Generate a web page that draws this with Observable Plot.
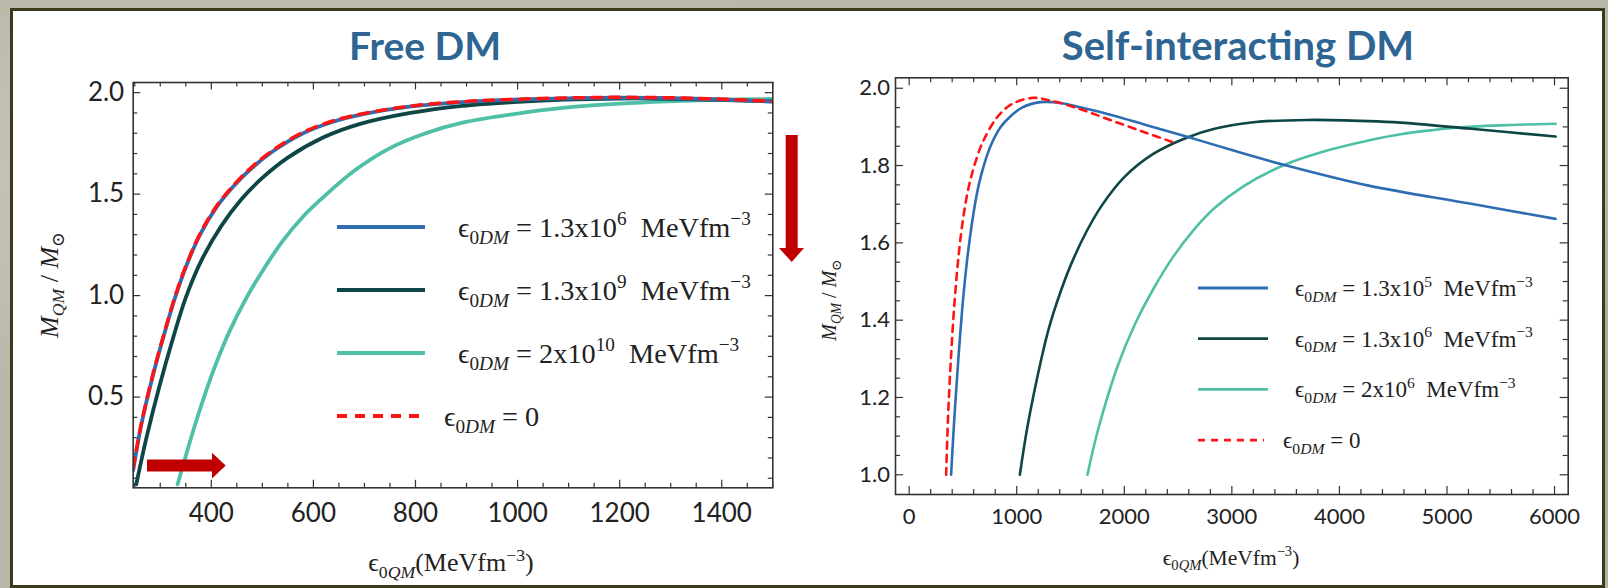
<!DOCTYPE html>
<html><head><meta charset="utf-8">
<script src="https://cdn.jsdelivr.net/npm/d3@7"></script>
<script src="https://cdn.jsdelivr.net/npm/@observablehq/plot@0.6"></script>
<style>
html,body{margin:0;padding:0;width:1608px;height:588px;overflow:hidden;
  background:#b9b7a8;
  background-image:radial-gradient(ellipse at 20% 30%, rgba(255,255,255,0.25), transparent 40%),
    radial-gradient(ellipse at 80% 70%, rgba(90,90,70,0.22), transparent 45%);}
#panel{position:absolute;left:10px;top:8px;width:1595px;height:580px;box-sizing:border-box;border:3px solid #3b3a1d;background:#fff;}
.chart{position:absolute;top:0;width:804px;height:588px;}
#deco{position:absolute;left:0;top:0;}
</style></head><body>
<div id="panel"></div>
<div id="left" class="chart" style="left:0px"></div>
<div id="right" class="chart" style="left:804px"></div>
<svg id="deco" width="1608" height="588"></svg>
<script>
// ---------------- DATA ----------------
// Free DM panel (x: eps0QM in MeV fm^-3, y: M/Msun)
const freeZeroX = [247, 263, 288, 310, 329, 350, 379, 410, 444, 480, 520, 580, 640, 700, 791, 900, 992, 1100, 1193, 1350, 1500];
const freeZeroY = [0.15, 0.37, 0.635, 0.835, 0.995, 1.145, 1.31, 1.44, 1.545, 1.635, 1.715, 1.805, 1.862, 1.898, 1.934, 1.957, 1.967, 1.974, 1.977, 1.972, 1.958];
const freeAX = [247, 263, 288, 310, 329, 350, 379, 410, 444, 480, 520, 580, 640, 700, 791, 900, 992, 1100, 1193, 1350, 1500];
const freeAY = [0.14, 0.365, 0.63, 0.83, 0.99, 1.14, 1.305, 1.435, 1.54, 1.63, 1.71, 1.80, 1.858, 1.895, 1.932, 1.955, 1.965, 1.972, 1.975, 1.970, 1.956];
const freeBX = [253, 273, 298, 325, 350, 380, 420, 459, 500, 550, 620, 690, 790, 892, 1000, 1093, 1200, 1300, 1500];
const freeBY = [0.07, 0.30, 0.55, 0.79, 0.99, 1.17, 1.345, 1.475, 1.58, 1.68, 1.78, 1.845, 1.90, 1.935, 1.955, 1.966, 1.971, 1.970, 1.957];
const freeCX = [334, 350, 369, 404, 435, 469, 500, 540, 580, 615, 680, 751, 820, 892, 1000, 1093, 1200, 1294, 1400, 1500];
const freeCY = [0.07, 0.21, 0.37, 0.63, 0.82, 0.99, 1.12, 1.27, 1.39, 1.475, 1.615, 1.728, 1.80, 1.852, 1.897, 1.926, 1.946, 1.957, 1.965, 1.969];

// Self-interacting DM panel
const siZeroX = [344, 355, 368, 390, 420, 457, 500, 550, 601, 660, 709, 818, 950, 1147, 1314, 1600, 1887, 2200, 2457];
const siZeroY = [1.0, 1.10, 1.19, 1.31, 1.44, 1.56, 1.66, 1.74, 1.795, 1.845, 1.875, 1.925, 1.958, 1.975, 1.968, 1.945, 1.916, 1.885, 1.86];
const siAX = [390, 410, 430, 460, 500, 545, 600, 647, 694, 756, 849, 933, 1050, 1221, 1407, 1600, 1888, 2200, 2602, 3000, 3508, 4272, 5225, 6010];
const siAY = [1.0, 1.10, 1.19, 1.31, 1.45, 1.57, 1.68, 1.75, 1.80, 1.85, 1.899, 1.925, 1.950, 1.964, 1.962, 1.950, 1.930, 1.905, 1.873, 1.84, 1.80, 1.748, 1.701, 1.662];
const siBX = [1029, 1100, 1221, 1300, 1397, 1506, 1650, 1792, 2000, 2269, 2580, 2839, 3200, 3700, 4271, 4568, 5225, 6010];
const siBY = [1.0, 1.125, 1.29, 1.38, 1.465, 1.545, 1.63, 1.697, 1.77, 1.83, 1.872, 1.895, 1.912, 1.918, 1.915, 1.911, 1.895, 1.875];
const siCX = [1658, 1750, 1935, 2100, 2269, 2457, 2650, 2839, 3100, 3508, 3900, 4271, 4568, 4878, 5125, 5600, 6010];
const siCY = [1.0, 1.11, 1.279, 1.39, 1.48, 1.565, 1.635, 1.69, 1.745, 1.804, 1.84, 1.865, 1.881, 1.892, 1.899, 1.905, 1.908];

// Ticks
const freeMajorX = [400, 600, 800, 1000, 1200, 1400];
const freeMinorX = d3.range(250, 1501, 50).filter(v => v % 200 !== 0);
const freeMajorY = [0.5, 1.0, 1.5, 2.0];
const freeMinorY = [0.1,0.2,0.3,0.4,0.6,0.7,0.8,0.9,1.1,1.2,1.3,1.4,1.6,1.7,1.8,1.9];
const siMajorX = [0, 1000, 2000, 3000, 4000, 5000, 6000];
const siMinorX = d3.range(200, 6000, 200).filter(v => v % 1000 !== 0);
const siMajorY = [1.0, 1.2, 1.4, 1.6, 1.8, 2.0];
const siMinorY = [1.05,1.1,1.15,1.25,1.3,1.35,1.45,1.5,1.55,1.65,1.7,1.75,1.85,1.9,1.95];

// Legend labels
const freeLegend = [
  {key: "a", base: "1.3x10", exp: "6"},
  {key: "b", base: "1.3x10", exp: "9"},
  {key: "c", base: "2x10", exp: "10"},
  {key: "zero", zero: true}
];
const siLegend = [
  {key: "a", base: "1.3x10", exp: "5"},
  {key: "b", base: "1.3x10", exp: "6"},
  {key: "c", base: "2x10", exp: "6"},
  {key: "zero", zero: true}
];

const COLORS = {a: "#2f6db3", b: "#0e4646", c: "#4fbfa6", zero: "#ff1414"};

// ---------------- HELPERS ----------------
const W = 804, H = 588;
const zip = (xs, ys) => xs.map((x, i) => ({x, y: ys[i]}));

function rich(parent, x, y, parts, size, opts = {}) {
  const t = parent.append("text").attr("x", x).attr("y", y)
    .attr("font-family", "'Liberation Serif', 'DejaVu Serif', serif")
    .attr("font-size", size).attr("fill", opts.fill || "#222")
    .attr("text-anchor", opts.anchor || "start");
  if (opts.transform) t.attr("transform", opts.transform);
  let shift = 0;
  for (const p of parts) {
    const target = p.s === "sub" ? size * 0.25 : p.s === "sup" ? -size * 0.40 : 0;
    const ts = t.append("tspan").attr("dy", target - shift)
      .attr("font-size", p.s ? size * 0.68 : size).text(p.t);
    if (p.i) ts.attr("font-style", "italic");
    shift = target;
  }
  return t;
}
const eps = (sub) => [{t: "\u03F5"}, {t: "0", s: "sub"}, {t: sub, s: "sub", i: true}];

function makeChart(cfg) {
  const fw = W - cfg.ml - cfg.mr, fh = H - cfg.mt - cfg.mb;
  const tk = {stroke: "#333", strokeWidth: 1.2};
  const marks = [
    Plot.tickX(cfg.majorX, {x: d => d, insetTop: fh - cfg.maj, ...tk}),
    Plot.tickX(cfg.majorX, {x: d => d, insetBottom: fh - cfg.maj, ...tk}),
    Plot.tickX(cfg.minorX, {x: d => d, insetTop: fh - cfg.min, ...tk}),
    Plot.tickX(cfg.minorX, {x: d => d, insetBottom: fh - cfg.min, ...tk}),
    Plot.tickY(cfg.majorY, {y: d => d, insetRight: fw - cfg.maj, ...tk}),
    Plot.tickY(cfg.majorY, {y: d => d, insetLeft: fw - cfg.maj, ...tk}),
    Plot.tickY(cfg.minorY, {y: d => d, insetRight: fw - cfg.min, ...tk}),
    Plot.tickY(cfg.minorY, {y: d => d, insetLeft: fw - cfg.min, ...tk}),
  ];
  for (const s of cfg.series) {
    marks.push(Plot.line(s.data, {x: "x", y: "y", stroke: COLORS[s.key], strokeWidth: s.width,
      strokeDasharray: s.dash, curve: "catmull-rom", clip: true}));
  }
  marks.push(Plot.frame({stroke: "#333", strokeWidth: 1.6}));
  marks.push(Plot.axisX(cfg.majorX, {tickSize: 0, tickPadding: cfg.xPad, tickFormat: d3.format("d"),
    fontSize: cfg.tickFont, label: null, fill: "#222"}));
  marks.push(Plot.axisY(cfg.majorY, {tickSize: 0, tickPadding: cfg.yPad, tickFormat: d3.format(".1f"),
    fontSize: cfg.tickFont, label: null, fill: "#222"}));
  const svg = Plot.plot({
    width: W, height: H,
    marginLeft: cfg.ml, marginRight: cfg.mr, marginTop: cfg.mt, marginBottom: cfg.mb,
    x: {domain: cfg.xDomain}, y: {domain: cfg.yDomain},
    style: {background: "transparent", fontFamily: "Lato, sans-serif", overflow: "visible", color: "#222"},
    marks
  });
  const g = d3.select(svg);
  // title
  g.append("text").attr("x", cfg.titleX).attr("y", 60).attr("text-anchor", "middle")
    .attr("font-family", "Lato, sans-serif").attr("font-weight", 700).attr("font-size", cfg.titleSize)
    .attr("fill", "#2e6592").text(cfg.title);
  // y title
  const yt = cfg.yTitle;
  rich(g, yt.cx, yt.cy + yt.size * 0.33, [{t: "M", i: true}, {t: "QM", s: "sub", i: true}, {t: " / "}, {t: "M", i: true}, {t: "\u2299", s: "sub"}],
    yt.size, {anchor: "middle", transform: `rotate(-90,${yt.cx},${yt.cy})`});
  // x title
  const xt = cfg.xTitle;
  rich(g, xt.cx, xt.y, [...eps("QM"), {t: "(MeVfm"}, {t: "\u22123", s: "sup"}, {t: ")"}], xt.size, {anchor: "middle"});
  // legend
  const L = cfg.legend;
  cfg.legendItems.forEach((it, i) => {
    const y = L.y0 + i * L.dy;
    const s = cfg.series.find(d => d.key === it.key);
    g.append("line").attr("x1", L.x1).attr("x2", it.zero ? L.x2z : L.x2).attr("y1", y).attr("y2", y)
      .attr("stroke", COLORS[it.key]).attr("stroke-width", L.lw).attr("stroke-dasharray", s.dash || null);
    const parts = it.zero
      ? [...eps("DM"), {t: " = 0"}]
      : [...eps("DM"), {t: " = " + it.base}, {t: it.exp, s: "sup"}, {t: "  MeVfm"}, {t: "\u22123", s: "sup"}];
    rich(g, it.zero ? L.tz : L.tx, y + L.size * 0.34, parts, L.size);
  });
  return svg;
}

// ---------------- LEFT: Free DM ----------------
document.getElementById("left").appendChild(makeChart({
  ml: 132.7, mr: 31.7, mt: 82, mb: 100.7,
  xDomain: [247, 1500], yDomain: [0.053, 2.05],
  majorX: freeMajorX, minorX: freeMinorX, majorY: freeMajorY, minorY: freeMinorY,
  maj: 7.5, min: 4.5, tickFont: 26, xPad: 16, yPad: 9,
  series: [
    {key: "c", data: zip(freeCX, freeCY), width: 3.8},
    {key: "b", data: zip(freeBX, freeBY), width: 3.8},
    {key: "a", data: zip(freeAX, freeAY), width: 3.8},
    {key: "zero", data: zip(freeZeroX, freeZeroY), width: 3.5, dash: "10,8"}
  ],
  title: "Free DM", titleX: 425, titleSize: 39,
  yTitle: {cx: 49, cy: 285, size: 26},
  xTitle: {cx: 451, y: 571, size: 26},
  legend: {x1: 337, x2: 425, x2z: 420, tx: 458, tz: 444, y0: 227, dy: 63, lw: 3.8, size: 28.3},
  legendItems: freeLegend
}));

// ---------------- RIGHT: Self-interacting DM ----------------
document.getElementById("right").appendChild(makeChart({
  ml: 91, mr: 40.3, mt: 77.3, mb: 94,
  xDomain: [-127, 6127], yDomain: [0.949, 2.027],
  majorX: siMajorX, minorX: siMinorX, majorY: siMajorY, minorY: siMinorY,
  maj: 8, min: 5, tickFont: 22, xPad: 14, yPad: 5.5,
  series: [
    {key: "c", data: zip(siCX, siCY), width: 2.6},
    {key: "b", data: zip(siBX, siBY), width: 2.6},
    {key: "a", data: zip(siAX, siAY), width: 2.6},
    {key: "zero", data: zip(siZeroX, siZeroY), width: 2.6, dash: "7,6"}
  ],
  title: "Self-interacting DM", titleX: 434, titleSize: 40,
  yTitle: {cx: 25, cy: 300, size: 20},
  xTitle: {cx: 427, y: 565, size: 21.5},
  legend: {x1: 394, x2: 464, x2z: 460, tx: 491, tz: 479, y0: 288, dy: 50.7, lw: 2.8, size: 23},
  legendItems: siLegend
}));

// ---------------- Decorative arrows ----------------
const deco = d3.select("#deco");
deco.append("polygon").attr("fill", "#c00000")
  .attr("points", "147,459.5 212,459.5 212,452.7 225.7,465.5 212,478.5 212,471.5 147,471.5");
deco.append("polygon").attr("fill", "#c00000")
  .attr("points", "785.7,135 797.7,135 797.7,248 804,248 791.7,262 779,248 785.7,248");
</script>
</body></html>
